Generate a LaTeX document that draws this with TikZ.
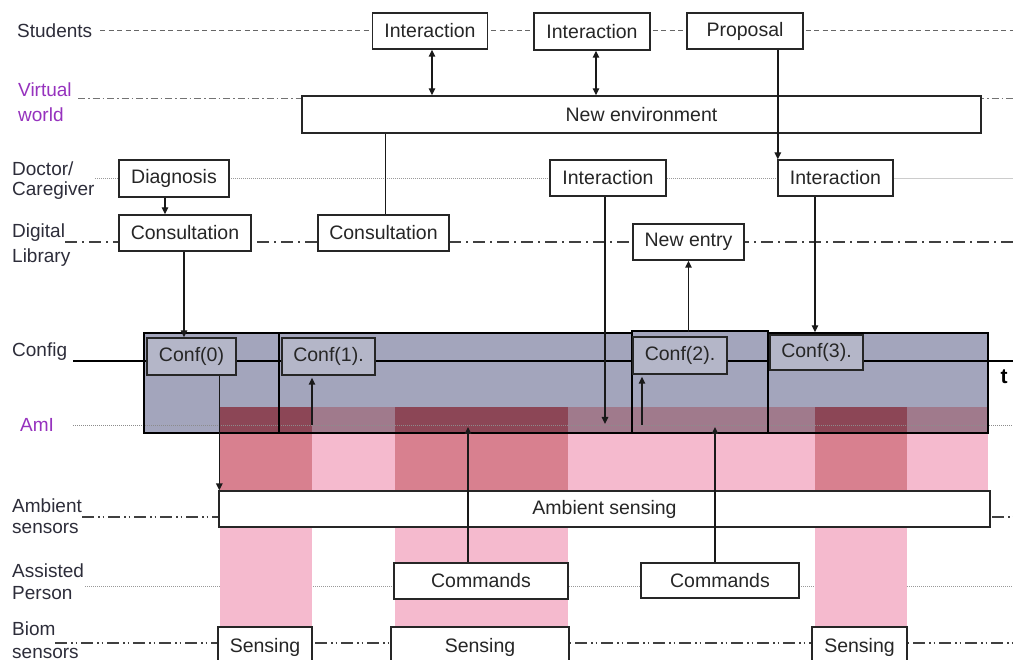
\documentclass[tikz,border=0pt]{standalone}
\usepackage{fontspec}
\setmainfont{Liberation Sans}
\usetikzlibrary{arrows.meta,calc}
\definecolor{lbl}{RGB}{45,45,58}
\definecolor{purp}{RGB}{150,50,190}
\definecolor{grayfill}{RGB}{163,165,188}
\definecolor{conffill}{RGB}{180,182,200}
\definecolor{bandlight}{RGB}{160,122,140}
\definecolor{banddark}{RGB}{140,70,86}
\definecolor{pinklight}{RGB}{245,186,206}
\definecolor{pinkdark}{RGB}{216,128,143}
\tikzset{
  box/.style={draw=black!85,line width=1.4pt,fill=white,inner sep=0pt,anchor=center,font=\fontsize{19.5}{21}\selectfont,text=black!85},
  confbox/.style={box,fill=conffill},
  lane/.style={anchor=west,inner sep=0pt,font=\fontsize{19}{21}\selectfont,text=lbl},
  arr/.style={line width=1.4pt,draw=black!90,-{Triangle[length=7pt,width=6.5pt]}},
  darr/.style={line width=1.4pt,draw=black!90,{Triangle[length=7pt,width=6.5pt]}-{Triangle[length=7pt,width=6.5pt]}},
  plain/.style={line width=1.4pt,draw=black!90},
  dashl/.style={line width=1pt,draw=black!60,dash pattern=on 5pt off 3.5pt},
  dashdot/.style={line width=1pt,draw=black!55,dash pattern=on 7pt off 3pt on 1.5pt off 3pt},
  longdashdot/.style={line width=1.1pt,draw=black!75,dash pattern=on 12pt off 5pt on 2pt off 5pt},
  dashdotdot/.style={line width=1.1pt,draw=black!75,dash pattern=on 12pt off 4pt on 1.5pt off 3pt on 1.5pt off 4pt},
  dotl/.style={line width=0.8pt,draw=black!40,dash pattern=on 1pt off 1pt}
}
\begin{document}
\begin{tikzpicture}[x=1pt,y=-1pt]
\useasboundingbox (0,0) rectangle (1013,660);
\fill[white] (0,0) rectangle (1013,660);

% lane labels
\node[lane] (lS) at (17,31) {Students};
\node[lane,text=purp] (lV1) at (18,90) {Virtual};
\node[lane,text=purp] (lV2) at (18,115) {world};
\node[lane] (lD1) at (12,169) {Doctor/};
\node[lane] (lD2) at (12,191) {Caregiver};
\node[lane] (lL1) at (12,233) {Digital};
\node[lane] (lL2) at (12,258) {Library};
\node[lane] (lC) at (12,352) {Config};
\node[lane,text=purp] (lA) at (20,425) {AmI};
\node[lane] (lB1) at (12,506) {Ambient};
\node[lane] (lB2) at (12,528) {sensors};
\node[lane] (lP1) at (12,571) {Assisted};
\node[lane] (lP2) at (12,593) {Person};
\node[lane] (lM1) at (12,629) {Biom};
\node[lane] (lM2) at (12,653) {sensors};

% lane lines
\draw[dashl] (100,31) -- (1013,31);
\draw[dashdot] (78,99) -- (1013,99);
\draw[dotl] (95,178) -- (893,178);
\draw[line width=0.8pt,draw=black!20] (893,178) -- (1013,178);
\draw[longdashdot] (65,242) -- (1013,242);
\draw[dashdotdot] (82,517) -- (1013,517);
\draw[dotl] (85,586) -- (1013,586);
\draw[dashdotdot] (55,643) -- (1013,643);

% pink & gray regions
\fill[grayfill] (144,333) rectangle (632,433);
\fill[grayfill] (632,331) rectangle (768,433);
\fill[grayfill] (768,333) rectangle (988,433);
\fill[bandlight] (220,407) rectangle (988,433);
\fill[pinklight] (220,433) rectangle (988,490);
\foreach \a/\b in {220/312,395/568,815/907}{
  \fill[banddark] (\a,407) rectangle (\b,433);
  \fill[pinkdark] (\a,433) rectangle (\b,490);
  \fill[pinklight] (\a,527) rectangle (\b,627);
}
\draw[dotl,draw=black!45] (73,425) -- (1013,425);
\draw[line width=2.8pt] (73,361) -- (1013,361);
\draw[line width=1.4pt] (144,333) rectangle (279,433);
\draw[line width=1.4pt] (279,333) rectangle (632,433);
\draw[line width=1.4pt] (632,331) rectangle (768,433);
\draw[line width=1.4pt] (768,333) rectangle (988,433);
\draw[line width=2.8pt] (279,333) -- (279,433);
\node[font=\fontsize{21}{22}\selectfont\bfseries,inner sep=0pt] (t) at (1004,377) {t};

% boxes
\node[box,minimum width=115,minimum height=36] (i1) at (430,31) {Interaction};
\node[box,minimum width=116,minimum height=37] (i2) at (592,31.5) {Interaction};
\node[box,minimum width=116,minimum height=36] (prop) at (745,31) {Proposal};
\node[box,minimum width=679,minimum height=37] (newenv) at (641.5,114.5) {New environment};
\node[box,minimum width=110,minimum height=37] (diag) at (174,178.5) {Diagnosis};
\node[box,minimum width=132,minimum height=36] (cons1) at (185,233) {Consultation};
\node[box,minimum width=131,minimum height=36] (cons2) at (383.5,233) {Consultation};
\node[box,minimum width=116,minimum height=36] (int2) at (608,178) {Interaction};
\node[box,minimum width=115,minimum height=36] (int3) at (835.5,178) {Interaction};
\node[box,minimum width=111,minimum height=36] (newentry) at (688.5,242) {New entry};
\node[confbox,minimum width=89,minimum height=37] (conf0) at (191.5,356.5) {Conf(0)};
\node[confbox,minimum width=93,minimum height=37] (conf1) at (328.5,356.5) {Conf(1).};
\node[confbox,minimum width=94,minimum height=37] (conf2) at (680,355.5) {Conf(2).};
\node[confbox,minimum width=93,minimum height=35] (conf3) at (816.5,352.5) {Conf(3).};
\node[box,minimum width=771,minimum height=36] (amb) at (604.5,509) {Ambient sensing};
\node[box,minimum width=174,minimum height=36] (cmd1) at (481,581) {Commands};
\node[box,minimum width=158,minimum height=35] (cmd2) at (720,580.5) {Commands};
\node[box,minimum width=94,minimum height=40] (sens1) at (265,647) {Sensing};
\node[box,minimum width=178,minimum height=40] (sens2) at (480,647) {Sensing};
\node[box,minimum width=95,minimum height=40] (sens3) at (859.5,647) {Sensing};

% connectors
\draw[darr] ([xshift=2pt]i1.south) -- ([xshift=2pt]i1.south |- newenv.north);
\draw[darr] ([xshift=4pt]i2.south) -- ([xshift=4pt]i2.south |- newenv.north);
\draw[arr] ([xshift=0.5pt]prop.south -| int3.north west) -- ([xshift=0.5pt]int3.north west);
\draw[plain] ([xshift=2pt]cons2.north |- newenv.south) -- ([xshift=2pt]cons2.north);
\draw[arr] ([xshift=-9pt]diag.south) -- ([xshift=-9pt]diag.south |- cons1.north);
\draw[arr] ([xshift=-1pt]cons1.south) -- ([xshift=-1pt]cons1.south |- conf0.north);
\coordinate (a2) at (605,424);
\draw[arr] (a2 |- int2.south) -- (a2);
\draw[arr] ([xshift=-1.5pt]conf3.north |- int3.south) -- ([xshift=-1.5pt,yshift=2pt]conf3.north);
\draw[arr] ([xshift=1pt]amb.north west |- conf0.south) -- ([xshift=1pt]amb.north west);
\coordinate (u1) at (312,425);
\draw[arr] (u1) -- ([yshift=-2pt]u1 |- conf1.south);
\coordinate (u2) at (642,425);
\draw[arr] (u2) -- ([yshift=-2pt]u2 |- conf2.south);
\coordinate (c1) at (468,427);
\draw[arr] (c1 |- cmd1.north) -- (c1);
\coordinate (c2) at (715,427);
\draw[arr] (c2 |- cmd2.north) -- (c2);
\draw[arr] ([yshift=4pt]newentry.south |- conf2.north) -- (newentry.south);
\end{tikzpicture}
\end{document}
